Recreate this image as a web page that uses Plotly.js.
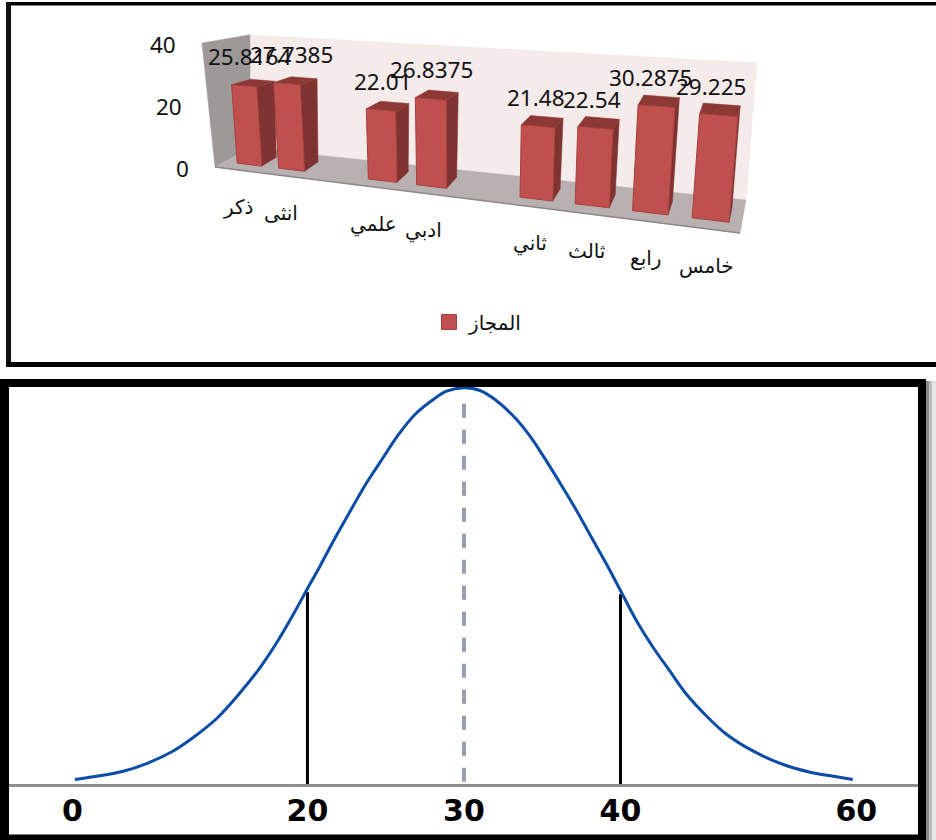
<!DOCTYPE html>
<html>
<head>
<meta charset="utf-8">
<script src="https://cdn.plot.ly/plotly-3.0.1.min.js"></script>
<style>html,body{margin:0;padding:0;background:#fff}#chart{width:936px;height:840px}</style>
</head>
<body>
<div id="chart"></div>
<script>
// ---- top chart data
const categories = ['ذكر','انثى','','علمي','ادبي','','ثاني','ثالث','رابع','خامس'];
const passed = [25.8164,27.7385,null,22.01,26.8375,null,21.48,22.54,30.2875,29.225];
const passedLabels = ['25.8164','27.7385','','22.01','26.8375','','21.48','22.54','30.2875','29.225'];
const heightTicks = [0,20,40];
const seriesName = 'المجاز';

// ---- bottom chart data
const curveX = [5.14,6.31,8.23,9.72,11.42,12.70,14.20,15.69,16.96,18.03,19.09,19.97,20.80,21.65,22.61,23.78,24.84,25.80,26.87,28.04,28.89,30,31.02,31.98,33.26,34.22,35.07,36.13,37.09,38.16,39.12,40.03,41.04,42.10,43.16,44.23,45.51,46.79,48.49,50.40,52.11,53.81,54.84];
const curveY = [1.14,1.82,3.23,5.17,8.33,11.74,16.53,23.02,29.33,35.64,42.78,49.09,54.97,61.28,68.02,76.02,82.41,88.09,93.26,97.04,99.14,100,99.32,97.04,92.43,87.78,82.74,76.02,69.71,62.14,55.40,48.59,41.09,34.38,28.47,22.59,17.11,12.49,8.28,4.92,2.98,1.82,1.14];
const scoreTickPos = [4.98,20,30,40,55.07];
const scoreTickText = ['0','20','30','40','60'];
const markerX = [20,40];
const markerTop = [48.4,47.9];
const meanX = 30;
const meanTop = 96;

// ---- oblique view of the 3D column chart
const W = 936, H = 840;
const corner = {fl:[215,167], fr:[740,233], bl:[250,148], br:[746,200]};
const scaleC = {fl:3.1, fr:3.7, bl:2.83, br:3.43};
const leanC = {fl:-0.105, fr:0.09, bl:0, br:0.08};
const bil = (c,u,w)=> (c.fl*(1-u)+c.fr*u)*(1-w) + (c.bl*(1-u)+c.br*u)*w;
const cx = {fl:corner.fl[0],fr:corner.fr[0],bl:corner.bl[0],br:corner.br[0]};
const cy = {fl:corner.fl[1],fr:corner.fr[1],bl:corner.bl[1],br:corner.br[1]};
function project(u,w,v){
  const k = bil(scaleC,u,w), l = bil(leanC,u,w);
  return [bil(cx,u,w)+l*k*v, bil(cy,u,w)-k*v];
}
const slotU = i => 0.024+0.078*i+0.0022*i*i;
const W0 = 0.28, W1 = 0.72;
function face(points,fill,line,lw){
  const p = points.map(a=>project(a[0],a[1],a[2]));
  p.push(p[0]);
  return {type:'scatter',mode:'lines',xaxis:'x2',yaxis:'y2',hoverinfo:'skip',showlegend:false,
    x:p.map(q=>q[0]),y:p.map(q=>q[1]),fill:'toself',fillcolor:fill,
    line:{color:line,width:lw}};
}
const traces = [];
// walls and floor
traces.push(face([[0,1,0],[1,1,0],[1,1,40],[0,1,40]],'#f6ebeb','#f6ebeb',0.5));
traces.push(face([[0,0,0],[0,1,0],[0,1,40],[0,0,40]],'#9d9999','#9d9999',0.5));
traces.push(face([[0,0,0],[1,0,0],[1,1,0],[0,1,0]],'#b9b1b1','#b9b1b1',0.5));
traces.push(face([[0,0,0],[1,0,0]],'#8b8787','#8b8787',1.5));
// columns
const annotations = [];
categories.forEach((c,i)=>{
  const v = passed[i];
  const uMid = (slotU(i)+slotU(i+0.6))/2;
  if(v===null) return;
  const a = slotU(i), b = slotU(i+0.6);
  traces.push(face([[b,W0,0],[b,W1,0],[b,W1,v],[b,W0,v]],'#7f3331','#7f3331',0.5));
  traces.push(face([[a,W0,v],[b,W0,v],[b,W1,v],[a,W1,v]],'#8c3835','#8c3835',0.5));
  traces.push(face([[a,W0,0],[b,W0,0],[b,W0,v],[a,W0,v]],'#c0504d','#a5413e',1));
  const t = project(uMid,W0,v), t0 = project(uMid,W0,0);
  annotations.push({xref:'x2',yref:'y2',x:t0[0],y:t[1],yshift:29,text:passedLabels[i],showarrow:false,
    xanchor:'center',yanchor:'middle',font:{family:'"Noto Sans"',size:22.5,color:'#111'}});
  const g = project(uMid,0,0);
  annotations.push({xref:'x2',yref:'y2',x:g[0]-2,y:g[1],yshift:-37,text:c,showarrow:false,
    xanchor:'center',yanchor:'middle',font:{family:'"DejaVu Sans"',size:20,color:'#111'}});
});
heightTicks.forEach(v=>{
  const p = project(0,0,v);
  annotations.push({xref:'x2',yref:'y2',x:p[0],y:p[1],xshift:-24,yshift:-1,text:String(v),showarrow:false,
    xanchor:'right',yanchor:'middle',font:{family:'"Noto Sans"',size:22.5,color:'#111'}});
});
// legend entry
traces.push({type:'scatter',mode:'markers',xaxis:'x2',yaxis:'y2',x:[null],y:[null],name:seriesName,
  marker:{symbol:'square',size:15,color:'#c0504d',line:{color:'#a5413e',width:1}},hoverinfo:'skip',showlegend:true});
// bottom chart
markerX.forEach((x,i)=>traces.push({type:'scatter',mode:'lines',x:[x,x],y:[0,markerTop[i]],showlegend:false,hoverinfo:'skip',
  line:{color:'#000',width:3}}));
traces.push({type:'scatter',mode:'lines',x:[meanX,meanX],y:[meanTop,0],showlegend:false,hoverinfo:'skip',
  line:{color:'#9a9cb0',width:4,dash:'14px,12px'}});
traces.push({type:'scatter',mode:'lines',x:curveX,y:curveY,showlegend:false,hoverinfo:'skip',
  line:{color:'#0a4ca8',width:3,shape:'spline',smoothing:1}});

const rect = (x0,y0,x1,y1,c)=>({type:'rect',xref:'x2',yref:'y2',x0,y0,x1,y1,fillcolor:c,line:{width:0},layer:'above'});
const shapes = [
  // top frame
  rect(6,2,936,5.5,'#000'), rect(6,2,11,367,'#111'), rect(6,362,936,367,'#000'),
  // bottom frame
  rect(1,379,926,387,'#000'), rect(0,379,9,840,'#000'), rect(918,379,926,840,'#000'), rect(0,834.5,926,840,'#000'),
  // soft edge right of the bottom frame
  rect(926,381,929,840,'#8c8c8c'), rect(929,381,932,840,'#bdbdbd'), rect(932,381,936,840,'#e6e6e6')
];

const layout = {
  width:W,height:H,margin:{l:0,r:0,t:0,b:0,pad:0},paper_bgcolor:'#fff',plot_bgcolor:'rgba(0,0,0,0)',
  showlegend:true,
  legend:{x:429/W,xanchor:'left',y:1-322/H,yanchor:'middle',bgcolor:'rgba(0,0,0,0)',
    font:{family:'"DejaVu Sans"',size:20,color:'#111'},itemwidth:30},
  xaxis:{domain:[9/W,918/W],range:[0.93,59.01],showgrid:false,zeroline:false,showline:true,linecolor:'#8f8f8f',linewidth:3,
    tickmode:'array',tickvals:scoreTickPos,ticktext:scoreTickText,ticks:'',ticklabelstandoff:-2,
    tickfont:{family:'"DejaVu Sans"',size:30,weight:700,color:'#000'}},
  yaxis:{domain:[1-784/H,1-387/H],range:[0,100.2],visible:false},
  xaxis2:{domain:[0,1],range:[0,W],visible:false,anchor:'y2'},
  yaxis2:{domain:[0,1],range:[H,0],visible:false,anchor:'x2'},
  annotations,shapes
};
Plotly.newPlot('chart',traces,layout,{displayModeBar:false,staticPlot:true});
</script>
</body>
</html>
